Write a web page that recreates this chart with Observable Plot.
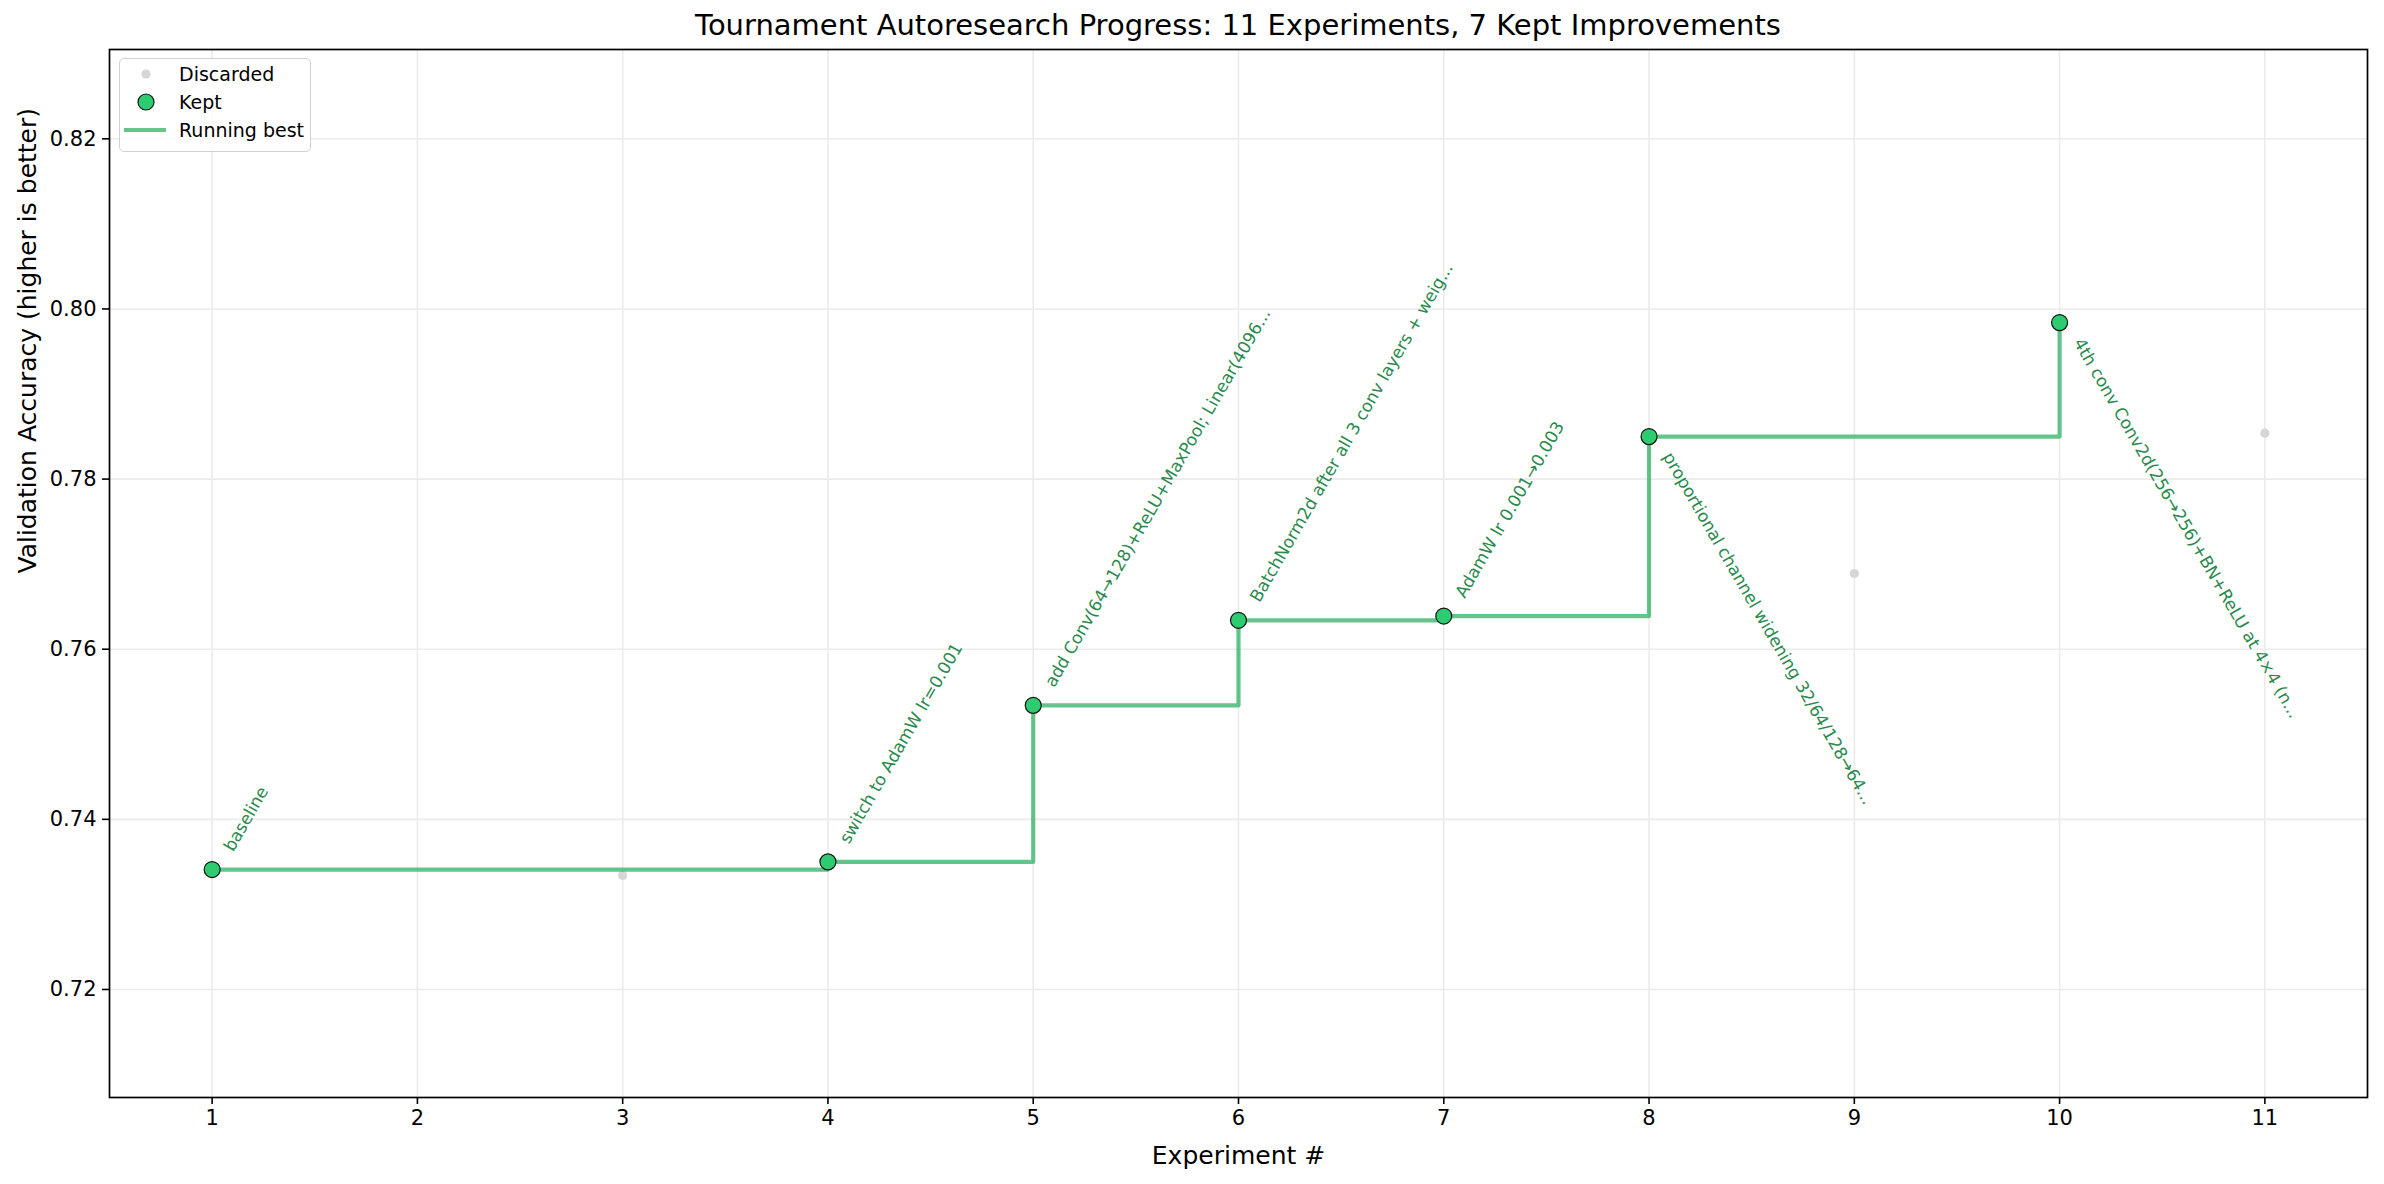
<!DOCTYPE html>
<html>
<head>
<meta charset="utf-8">
<script src="https://cdn.jsdelivr.net/npm/d3@7"></script>
<script src="https://cdn.jsdelivr.net/npm/@observablehq/plot@0.6"></script>
<style>
  html, body { margin: 0; padding: 0; background: #fff; }
  #wrap { position: relative; width: 2384px; height: 1184px; overflow: hidden; font-family: "DejaVu Sans", sans-serif; }
  #title { position: absolute; left: 0; width: 2476px; top: 8px; text-align: center; font-size: 29px; color: #000; white-space: nowrap; }
  #legend { position: absolute; left: 119px; top: 58px; width: 190px; height: 92px; border: 1.5px solid #d0d0d0; border-radius: 5px; background: rgba(255,255,255,0.85); font-size: 19px; }
  #legend svg { position: absolute; left: 0; top: 0; }
</style>
</head>
<body>
<div id="wrap">
  <div id="chart"></div>
  <div id="title"></div>
  <div id="legend"></div>
</div>
<script>
const titleText = "Tournament Autoresearch Progress: 11 Experiments, 7 Kept Improvements";
const xLabel = "Experiment #";
const yLabel = "Validation Accuracy (higher is better)";

const xTicks = [1, 2, 3, 4, 5, 6, 7, 8, 9, 10, 11];
const yTicks = [0.72, 0.74, 0.76, 0.78, 0.80, 0.82];

const keptExp = [1, 4, 5, 6, 7, 8, 10];
const keptAcc = [0.7341, 0.7350, 0.7534, 0.7634, 0.7639, 0.7850, 0.7984];
const keptLabels = [
  "baseline",
  "switch to AdamW lr=0.001",
  "add Conv(64\u2192128)+ReLU+MaxPool; Linear(4096...",
  "BatchNorm2d after all 3 conv layers + weig...",
  "AdamW lr 0.001\u21920.003",
  "proportional channel widening 32/64/128\u219264...",
  "4th conv Conv2d(256\u2192256)+BN+ReLU at 4\u00d74 (n..."
];
const labelBelow = [8, 10];

const discExp = [3, 9, 11];
const discAcc = [0.7334, 0.7689, 0.7854];

const legendItems = ["Discarded", "Kept", "Running best"];

const kept = keptExp.map((x, i) => ({x, y: keptAcc[i], label: keptLabels[i], below: labelBelow.includes(x)}));
const disc = discExp.map((x, i) => ({x, y: discAcc[i]}));

const green = "#2ecc71";
const lineGreen = "#27ae60";
const textGreen = "#2a8a4e";

const chart = Plot.plot({
  width: 2384,
  height: 1184,
  marginLeft: 109,
  marginRight: 17,
  marginTop: 49,
  marginBottom: 87,
  style: {fontFamily: "DejaVu Sans, sans-serif", fontSize: "21px", background: "white", color: "#000"},
  x: {domain: [0.5, 11.5]},
  y: {domain: [0.7073, 0.8305]},
  marks: [
    Plot.ruleX(xTicks, {x: d => d, stroke: "#ebebeb", strokeWidth: 1.6}),
    Plot.ruleY(yTicks, {y: d => d, stroke: "#ebebeb", strokeWidth: 1.6}),
    Plot.dot(disc, {x: "x", y: "y", r: 4.6, fill: "#d6d6d6", stroke: "none"}),
    Plot.line(kept, {x: "x", y: "y", curve: "step-after", stroke: lineGreen, strokeOpacity: 0.72, strokeWidth: 4.2}),
    Plot.dot(kept, {x: "x", y: "y", r: 8, fill: green, stroke: "#111", strokeWidth: 1.2}),
    Plot.text(kept.filter(d => !d.below), {x: "x", y: "y", text: "label", rotate: -60, textAnchor: "start", lineAnchor: "bottom", dx: 21, dy: -17, fontSize: 17, fill: textGreen}),
    Plot.text(kept.filter(d => d.below), {x: "x", y: "y", text: "label", rotate: 60, textAnchor: "start", lineAnchor: "top", dx: 24, dy: 14, fontSize: 17, fill: textGreen}),
    Plot.axisX({ticks: xTicks, tickFormat: d => String(d), tickSize: 7, tickPadding: 6, label: null, strokeWidth: 1.6, fontSize: 21}),
    Plot.axisY({ticks: yTicks, tickFormat: d3.format(".2f"), tickSize: 7, tickPadding: 6, label: null, strokeWidth: 1.6, fontSize: 21}),
    Plot.frame({stroke: "#000", strokeWidth: 1.7}),
    Plot.text([xLabel], {frameAnchor: "bottom", text: d => d, dy: 58, fontSize: 25, lineAnchor: "middle"}),
    Plot.text([yLabel], {frameAnchor: "left", text: d => d, dx: -82, rotate: -90, fontSize: 25, lineAnchor: "middle"})
  ]
});
document.getElementById("chart").appendChild(chart);
document.getElementById("title").textContent = titleText;

// Legend
const lg = d3.select("#legend").append("svg").attr("width", 190).attr("height", 92);
const rows = [15, 43, 71];
lg.append("circle").attr("cx", 26).attr("cy", rows[0]).attr("r", 4.6).attr("fill", "#d6d6d6");
lg.append("circle").attr("cx", 26).attr("cy", rows[1]).attr("r", 8).attr("fill", green).attr("stroke", "#111").attr("stroke-width", 1.2);
lg.append("line").attr("x1", 4).attr("x2", 46).attr("y1", rows[2]).attr("y2", rows[2]).attr("stroke", lineGreen).attr("stroke-opacity", 0.72).attr("stroke-width", 4.2);
legendItems.forEach((t, i) => {
  lg.append("text").attr("x", 59).attr("y", rows[i]).attr("dy", "0.35em").attr("font-size", 19).attr("font-family", "DejaVu Sans, sans-serif").text(t);
});
</script>
</body>
</html>
